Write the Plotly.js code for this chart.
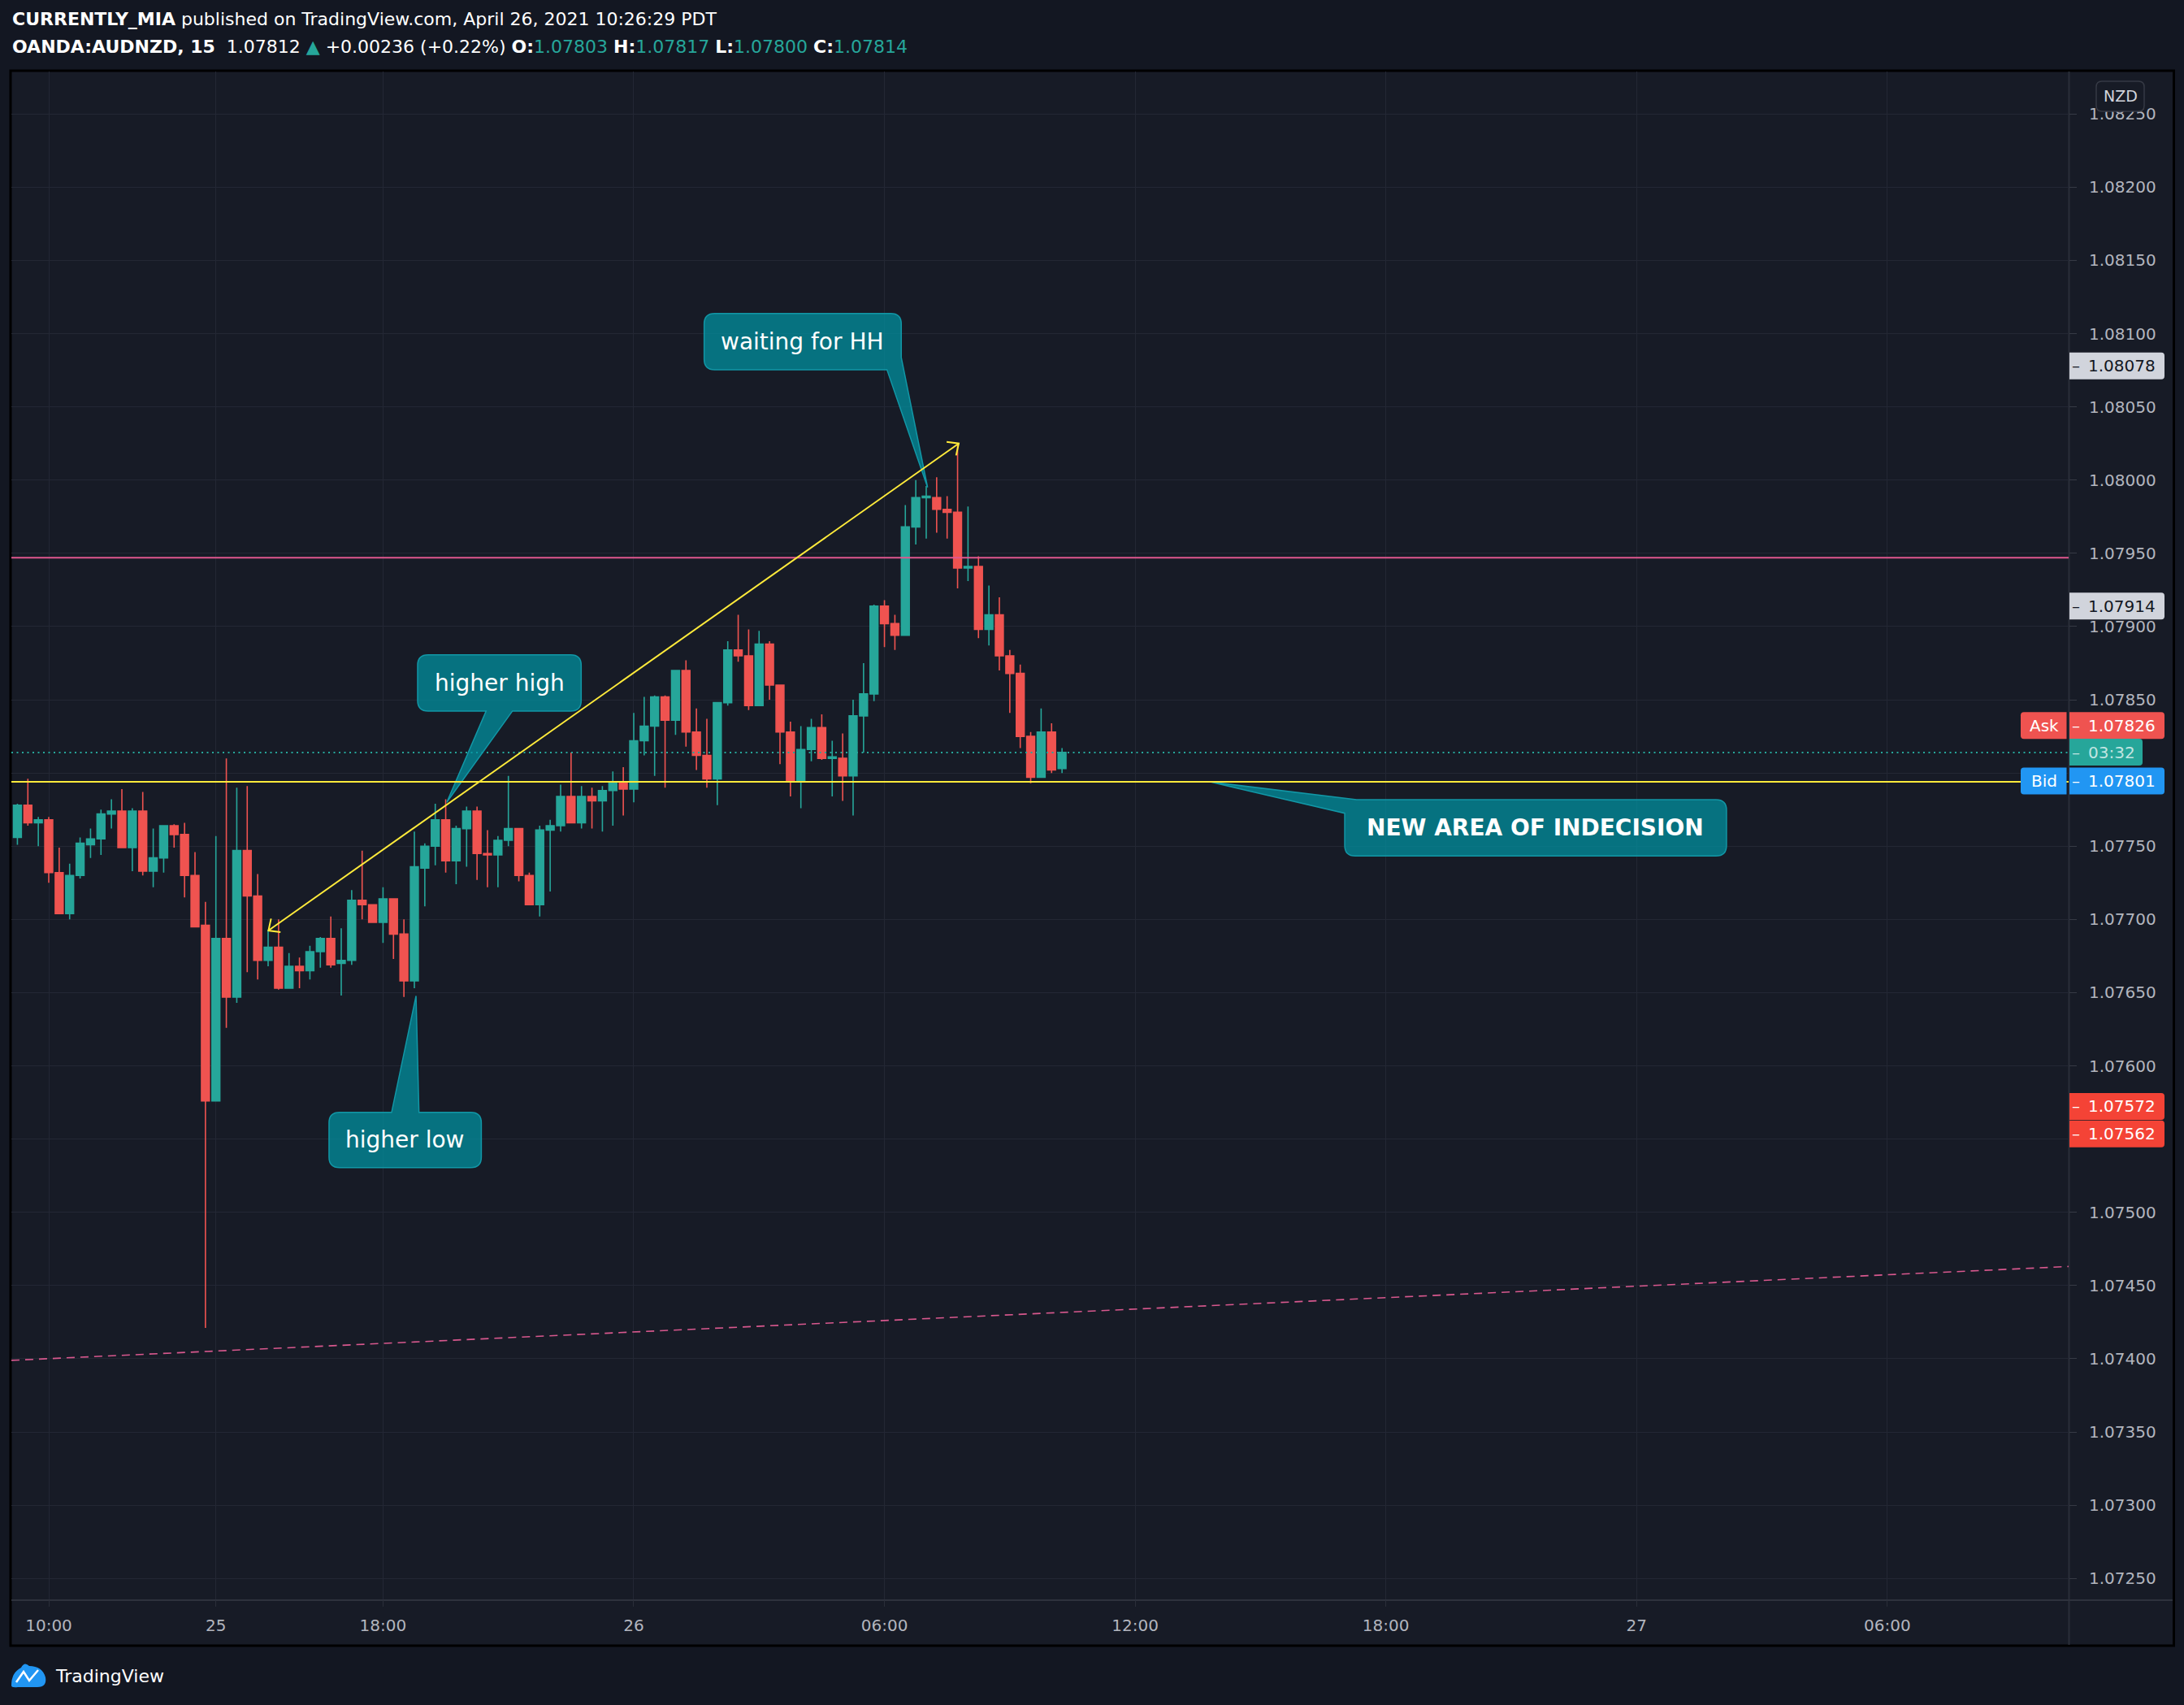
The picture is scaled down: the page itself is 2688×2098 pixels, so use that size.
<!DOCTYPE html>
<html><head><meta charset="utf-8">
<script src="https://cdn.plot.ly/plotly-3.0.1.min.js"></script>
<style>html,body{margin:0;padding:0;background:#131722;}#chart{width:2688px;height:2098px;}</style>
</head><body><div id="chart"></div>
<script>
// ===================== DATA =====================
// 15-minute candles, OANDA:AUDNZD. Bar index 0 = "10:00" (Fri). First candle is bar -3.
const firstBar = -3;
const openP = [
1.07756,1.07778,1.07766,1.07768,1.07732,1.07704,1.07730,1.07751,1.07755,1.07772,
1.07774,1.07749,1.07774,1.07733,1.07742,1.07764,1.07758,1.07730,1.07696,1.07576,
1.07687,1.07647,1.07747,1.07716,1.07672,1.07681,1.07653,1.07668,1.07665,1.07678,
1.07687,1.07670,1.07672,1.07713,1.07710,1.07698,1.07714,1.07690,1.07658,1.07735,
1.07750,1.07768,1.07740,1.07762,1.07774,1.07745,1.07744,1.07754,1.07762,1.07730,
1.07710,1.07761,1.07764,1.07784,1.07766,1.07784,1.07781,1.07788,1.07794,1.07789,
1.07822,1.07832,1.07852,1.07836,1.07870,1.07828,1.07812,1.07796,1.07848,1.07884,
1.07880,1.07846,1.07888,1.07860,1.07828,1.07794,1.07816,1.07831,1.07810,1.07810,
1.07798,1.07839,1.07854,1.07914,1.07902,1.07894,1.07968,1.07988,1.07988,1.07980,
1.07978,1.07940,1.07941,1.07898,1.07908,1.07880,1.07868,1.07825,1.07797,1.07828,
1.07803];
const highP = [
1.07779,1.07796,1.07770,1.07770,1.07749,1.07738,1.07756,1.07762,1.07775,1.07782,
1.07789,1.07776,1.07787,1.07762,1.07764,1.07765,1.07766,1.07746,1.07712,1.07757,
1.07810,1.07790,1.07791,1.07731,1.07693,1.07700,1.07677,1.07674,1.07682,1.07688,
1.07702,1.07694,1.07720,1.07747,1.07710,1.07722,1.07714,1.07700,1.07760,1.07752,
1.07779,1.07782,1.07764,1.07777,1.07777,1.07761,1.07757,1.07798,1.07762,1.07732,
1.07764,1.07768,1.07792,1.07814,1.07791,1.07790,1.07791,1.07801,1.07804,1.07841,
1.07852,1.07853,1.07853,1.07870,1.07877,1.07844,1.07837,1.07848,1.07890,1.07908,
1.07898,1.07897,1.07890,1.07860,1.07835,1.07832,1.07837,1.07840,1.07822,1.07827,
1.07850,1.07875,1.07915,1.07918,1.07908,1.07983,1.08000,1.07996,1.08002,1.07989,
1.08024,1.07982,1.07948,1.07928,1.07920,1.07884,1.07874,1.07828,1.07844,1.07834,
1.07817];
const lowP = [
1.07751,1.07764,1.07750,1.07725,1.07704,1.07700,1.07728,1.07742,1.07744,1.07762,
1.07749,1.07733,1.07730,1.07722,1.07732,1.07749,1.07715,1.07695,1.07421,1.07576,
1.07626,1.07643,1.07664,1.07659,1.07668,1.07652,1.07653,1.07653,1.07659,1.07667,
1.07667,1.07648,1.07669,1.07700,1.07698,1.07684,1.07673,1.07647,1.07653,1.07709,
1.07737,1.07732,1.07724,1.07736,1.07727,1.07722,1.07722,1.07750,1.07726,1.07710,
1.07702,1.07719,1.07760,1.07766,1.07762,1.07762,1.07760,1.07764,1.07771,1.07780,
1.07812,1.07798,1.07790,1.07826,1.07818,1.07802,1.07790,1.07778,1.07846,1.07876,
1.07843,1.07846,1.07850,1.07806,1.07784,1.07776,1.07808,1.07809,1.07784,1.07781,
1.07771,1.07814,1.07849,1.07886,1.07884,1.07894,1.07956,1.07960,1.07964,1.07960,
1.07926,1.07931,1.07892,1.07887,1.07870,1.07841,1.07817,1.07793,1.07797,1.07800,
1.07800];
const closeP = [
1.07778,1.07766,1.07768,1.07732,1.07704,1.07730,1.07752,1.07755,1.07772,1.07774,
1.07749,1.07774,1.07733,1.07742,1.07764,1.07758,1.07730,1.07695,1.07576,1.07687,
1.07647,1.07747,1.07716,1.07672,1.07681,1.07653,1.07668,1.07665,1.07678,1.07687,
1.07669,1.07672,1.07713,1.07710,1.07698,1.07714,1.07690,1.07658,1.07736,1.07750,
1.07768,1.07740,1.07762,1.07774,1.07745,1.07744,1.07754,1.07762,1.07730,1.07710,
1.07761,1.07764,1.07784,1.07766,1.07784,1.07781,1.07788,1.07794,1.07789,1.07822,
1.07832,1.07852,1.07836,1.07870,1.07828,1.07812,1.07796,1.07848,1.07884,1.07880,
1.07846,1.07888,1.07860,1.07828,1.07794,1.07816,1.07831,1.07810,1.07811,1.07798,
1.07839,1.07854,1.07914,1.07902,1.07894,1.07968,1.07988,1.07989,1.07980,1.07978,
1.07940,1.07941,1.07898,1.07908,1.07880,1.07868,1.07825,1.07797,1.07828,1.07802,
1.07814];

const tickBars   = [0, 16, 32, 56, 80, 104, 128, 152, 176];
const tickLabels = ['10:00', '25', '18:00', '26', '06:00', '12:00', '18:00', '27', '06:00'];
const priceTicks = [1.0725,1.0730,1.0735,1.0740,1.0745,1.0750,1.0755,1.0760,1.0765,1.0770,
                    1.0775,1.0780,1.0785,1.0790,1.0795,1.0800,1.0805,1.0810,1.0815,1.0820,1.0825];
const hiddenPriceTicks = [1.0755, 1.0780];   // covered by price-scale labels in the reference

const lastPrice = 1.07812, changeAbs = '+0.00236', changePct = '+0.22%';
const askPrice = 1.07826, bidPrice = 1.07801, countdown = '03:32';
const markerPrices = [1.08078, 1.07914];     // grey price-scale labels
const alertPrices  = [1.07572, 1.07562];     // red price-scale labels

// drawings (bar index, price)
const hLineYellow = 1.07794;
const hLinePink   = 1.07947;
const trendLine   = {x0: 21.03, y0: 1.076924, x1: 87.11, y1: 1.08025};
const dashedLine  = {y0: 1.073989, y1: 1.074630};

const callouts = [
  {text: 'waiting for HH', bold: false, x0: 62.74, x1: 81.61, yTop: 1.081138, yBot: 1.080754,
   tail: {s1: 1, p1: [81.61, 1.080837], tip: [84.13, 1.07995], s2: 2, p2: [80.24, 1.080754]}},
  {text: 'higher high', bold: false, x0: 35.31, x1: 50.97, yTop: 1.078807, yBot: 1.078423,
   tail: {s1: 2, p1: [44.39, 1.078423], tip: [38.1, 1.0778], s2: 2, p2: [41.87, 1.078423]}},
  {text: 'higher low', bold: false, x0: 26.83, x1: 41.41, yTop: 1.075682, yBot: 1.075305,
   tail: {s1: 0, p1: [32.82, 1.075682], tip: [35.16, 1.076478], s2: 0, p2: [35.44, 1.075682]}},
  {text: 'NEW AREA OF INDECISION', bold: true, x0: 124.06, x1: 160.61, yTop: 1.077818, yBot: 1.077433,
   tail: {s1: 3, p1: [124.06, 1.077725], tip: [111.25, 1.077938], s2: 0, p2: [125.2, 1.077818]}}
];

// ===================== GEOMETRY =====================
const FW = 2688, FH = 2098;
const X0 = 14, X1 = 2546, Y0 = 88, Y1 = 1968;
const xRange = [-3.578, 193.36];
const yRange = [1.072357, 1.08279];
const PW = X1 - X0, PH = Y1 - Y0;
const dx2px = i => X0 + (i - xRange[0]) / (xRange[1] - xRange[0]) * PW;
const dy2px = p => Y1 - (p - yRange[0]) / (yRange[1] - yRange[0]) * PH;
const px2dx = X => xRange[0] + (X - X0) / PW * (xRange[1] - xRange[0]);
const px2dy = Y => yRange[0] + (Y1 - Y) / PH * (yRange[1] - yRange[0]);
const pxX = X => (X - X0) / PW;
const pxY = Y => (Y1 - Y) / PH;

function pathStr(cmds, mx, my, close) {
  return cmds.map(c => c[0] + c.slice(1).map(p => mx(p[0]).toFixed(6) + ',' + my(p[1]).toFixed(7)).join(' ')).join(' ') + (close ? ' Z' : '');
}
function roundRect(l, t, r, b, rad) {
  const [tl, tr, br, bl] = rad;
  return [['M', [l + tl, t]], ['L', [r - tr, t]], ['Q', [r, t], [r, t + tr]], ['L', [r, b - br]], ['Q', [r, b], [r - br, b]],
          ['L', [l + bl, b]], ['Q', [l, b], [l, b - bl]], ['L', [l, t + tl]], ['Q', [l, t], [l + tl, t]]];
}
function calloutCmds(c) {
  const L = dx2px(c.x0), R = dx2px(c.x1), T = dy2px(c.yTop), B = dy2px(c.yBot), r = 13;
  const P = a => [dx2px(a[0]), dy2px(a[1])];
  const p1 = P(c.tail.p1), tip = P(c.tail.tip), p2 = P(c.tail.p2), s1 = c.tail.s1, s2 = c.tail.s2;
  const sides = [
    {end: [R - r, T], ctrl: [R, T], next: [R, T + r]},
    {end: [R, B - r], ctrl: [R, B], next: [R - r, B]},
    {end: [L + r, B], ctrl: [L, B], next: [L, B - r]},
    {end: [L, T + r], ctrl: [L, T], next: [L + r, T]}
  ];
  const cmds = [];
  cmds.push(['M', (s1 === 3 && s2 === 0) ? p2 : [L + r, T]]);
  for (let k = 0; k < 4; k++) {
    const sd = sides[k];
    if (k === s1) {
      cmds.push(['L', p1]); cmds.push(['L', tip]); cmds.push(['L', p2]);
      if (s2 !== k) continue;
    }
    cmds.push(['L', sd.end]); cmds.push(['Q', sd.ctrl, sd.next]);
  }
  return cmds;
}

// ===================== COLORS =====================
const UP = '#26a69a', DOWN = '#ef5350', GRID = '#232734', TXT = '#b2b5be';
const CHART_BG = '#171b26', PAGE_BG = '#131722';
const YELLOW = '#ffeb3b', PINK = '#e0578f', DASHPINK = '#d8588e';
const CALLOUT_FILL = 'rgba(0,151,167,0.70)', CALLOUT_LINE = '#1297a6';

const barIdx = openP.map((_, k) => firstBar + k);

const trace = {
  type: 'candlestick', x: barIdx, open: openP, high: highP, low: lowP, close: closeP,
  increasing: {line: {color: UP, width: 1.6}, fillcolor: UP},
  decreasing: {line: {color: DOWN, width: 1.6}, fillcolor: DOWN},
  whiskerwidth: 0, hoverinfo: 'skip', showlegend: false
};

const shapes = [];
const annotations = [];

// chart frame
shapes.push({type: 'rect', xref: 'paper', yref: 'paper', x0: pxX(13), x1: pxX(2675.5), y0: pxY(87), y1: pxY(2025),
  fillcolor: CHART_BG, line: {color: '#000000', width: 3}, layer: 'below'});
shapes.push({type: 'line', xref: 'paper', yref: 'paper', x0: pxX(X1 + 0.5), x1: pxX(X1 + 0.5), y0: pxY(88), y1: pxY(2024),
  line: {color: '#2a2e39', width: 2}, layer: 'below'});
shapes.push({type: 'line', xref: 'paper', yref: 'paper', x0: pxX(14), x1: pxX(2674), y0: pxY(1969), y1: pxY(1969),
  line: {color: '#2e323d', width: 2}, layer: 'below'});

// horizontal / dashed lines
shapes.push({type: 'line', xref: 'x', yref: 'y', x0: xRange[0], x1: xRange[1], y0: dashedLine.y0, y1: dashedLine.y1,
  line: {color: DASHPINK, width: 1.6, dash: '10px,7px'}});
shapes.push({type: 'line', xref: 'x', yref: 'y', x0: xRange[0], x1: xRange[1], y0: hLinePink, y1: hLinePink,
  line: {color: PINK, width: 1.8}});
shapes.push({type: 'line', xref: 'x', yref: 'y', x0: xRange[0], x1: xRange[1], y0: closeP[closeP.length - 1], y1: closeP[closeP.length - 1],
  line: {color: UP, width: 2, dash: '2px,4.5px'}});

// callouts
callouts.forEach(c => {
  shapes.push({type: 'path', xref: 'x', yref: 'y', path: pathStr(calloutCmds(c), px2dx, px2dy, true),
    fillcolor: CALLOUT_FILL, line: {color: CALLOUT_LINE, width: 1.5}});
  annotations.push({xref: 'x', yref: 'y', x: (c.x0 + c.x1) / 2, y: (c.yTop + c.yBot) / 2, showarrow: false,
    text: c.bold ? '<b>' + c.text + '</b>' : c.text,
    font: {family: 'DejaVu Sans', size: 28, color: '#ffffff'}, xanchor: 'center', yanchor: 'middle'});
});

// yellow lines (on top)
shapes.push({type: 'line', xref: 'x', yref: 'y', x0: xRange[0], x1: xRange[1], y0: hLineYellow, y1: hLineYellow,
  line: {color: YELLOW, width: 2}});
shapes.push({type: 'line', xref: 'x', yref: 'y', x0: trendLine.x0, y0: trendLine.y0, x1: trendLine.x1, y1: trendLine.y1,
  line: {color: YELLOW, width: 2}});
(function () {
  const S = [dx2px(trendLine.x0), dy2px(trendLine.y0)], E = [dx2px(trendLine.x1), dy2px(trendLine.y1)];
  const len = Math.hypot(E[0] - S[0], E[1] - S[1]);
  const u = [(E[0] - S[0]) / len, (E[1] - S[1]) / len];
  const rot = (v, a) => [v[0] * Math.cos(a) - v[1] * Math.sin(a), v[0] * Math.sin(a) + v[1] * Math.cos(a)];
  const head = (tip, back) => {
    const a = rot(back, 0.74), b = rot(back, -0.74), L = 15;
    return [['M', [tip[0] + L * a[0], tip[1] + L * a[1]]], ['L', tip], ['L', [tip[0] + L * b[0], tip[1] + L * b[1]]]];
  };
  [head(E, [-u[0], -u[1]]), head(S, u)].forEach(cm => shapes.push({type: 'path', xref: 'x', yref: 'y',
    path: pathStr(cm, px2dx, px2dy, false), fillcolor: 'rgba(0,0,0,0)', line: {color: YELLOW, width: 2}}));
})();

// price-scale labels
function scaleLabel(price, shiftPx, text, bg, fg, right, prefix) {
  const cy = dy2px(price) + shiftPx, t = cy - 16.5, b = cy + 16.5;
  shapes.push({type: 'path', xref: 'paper', yref: 'paper', path: pathStr(roundRect(X1 + 1, t, right, b, [0, 4, 4, 0]), pxX, pxY, true),
    fillcolor: bg, line: {width: 0}, layer: 'above'});
  annotations.push({xref: 'paper', yref: 'paper', x: pxX(X1 + 1.5), y: pxY(cy), xanchor: 'left', yanchor: 'middle', showarrow: false,
    text: '\u2013\u2002' + text, font: {family: 'DejaVu Sans', size: 20, color: fg}});
  if (prefix) {
    shapes.push({type: 'path', xref: 'paper', yref: 'paper', path: pathStr(roundRect(2487, t, X1 - 2.5, b, [4, 0, 0, 4]), pxX, pxY, true),
      fillcolor: bg, line: {width: 0}, layer: 'above'});
    annotations.push({xref: 'paper', yref: 'paper', x: pxX(2515.5), y: pxY(cy), xanchor: 'center', yanchor: 'middle', showarrow: false,
      text: prefix, font: {family: 'DejaVu Sans', size: 20, color: fg}});
  }
}
scaleLabel(markerPrices[0], 0, markerPrices[0].toFixed(5), '#d1d4dc', '#131722', 2664);
scaleLabel(markerPrices[1], 0, markerPrices[1].toFixed(5), '#d1d4dc', '#131722', 2664);
scaleLabel(alertPrices[0], -0.6, alertPrices[0].toFixed(5), '#f44336', '#ffffff', 2664);
scaleLabel(alertPrices[1], 15.2, alertPrices[1].toFixed(5), '#f44336', '#ffffff', 2664);
scaleLabel(askPrice, -11.6, askPrice.toFixed(5), DOWN, '#ffffff', 2664, 'Ask');
scaleLabel(closeP[closeP.length - 1], -0.4, countdown, UP, 'rgba(255,255,255,0.72)', 2637);
scaleLabel(bidPrice, 11.6, bidPrice.toFixed(5), '#2196f3', '#ffffff', 2664, 'Bid');

// NZD currency box
shapes.push({type: 'path', xref: 'paper', yref: 'paper', path: pathStr(roundRect(2580, 100, 2639, 137, [7, 7, 7, 7]), pxX, pxY, true),
  fillcolor: CHART_BG, line: {color: '#363a45', width: 1.5}, layer: 'above'});
annotations.push({xref: 'paper', yref: 'paper', x: pxX(2609.5), y: pxY(118.5), xanchor: 'center', yanchor: 'middle', showarrow: false,
  text: 'NZD', font: {family: 'DejaVu Sans', size: 19, color: '#d1d4dc'}});

// header
const n = closeP.length - 1;
const tv = v => '<span style="color:' + UP + '">' + v.toFixed(5) + '</span>';
annotations.push({xref: 'paper', yref: 'paper', x: pxX(13), y: pxY(23), xanchor: 'left', yanchor: 'middle', showarrow: false,
  text: '<b>CURRENTLY_MIA</b> published on TradingView.com, April 26, 2021 10:26:29 PDT',
  font: {family: 'DejaVu Sans', size: 22, color: '#ffffff'}});
annotations.push({xref: 'paper', yref: 'paper', x: pxX(13), y: pxY(57), xanchor: 'left', yanchor: 'middle', showarrow: false,
  text: '<b>OANDA:AUDNZD, 15</b>\u00a0 ' + lastPrice.toFixed(5) + ' <span style="color:' + UP + '">\u25b2</span> ' + changeAbs + ' (' + changePct + ') ' +
        '<b>O:</b>' + tv(openP[n]) + ' <b>H:</b>' + tv(highP[n]) + ' <b>L:</b>' + tv(lowP[n]) + ' <b>C:</b>' + tv(closeP[n]),
  font: {family: 'DejaVu Sans', size: 22, color: '#ffffff'}});

// footer logo
shapes.push({type: 'path', xref: 'paper', yref: 'paper',
  path: pathStr([['M', [14, 2074]], ['Q', [14, 2058], [26, 2052]], ['Q', [30, 2044], [36, 2050]], ['Q', [52, 2050], [56, 2064]],
                 ['Q', [58, 2076], [46, 2076]], ['L', [22, 2076]], ['Q', [14, 2077], [14, 2074]]], pxX, pxY, true),
  fillcolor: '#2196f3', line: {width: 0}, layer: 'above'});
shapes.push({type: 'path', xref: 'paper', yref: 'paper',
  path: pathStr([['M', [20, 2070]], ['L', [29, 2057]], ['L', [36, 2068]], ['L', [47, 2055]]], pxX, pxY, false),
  fillcolor: 'rgba(0,0,0,0)', line: {color: '#ffffff', width: 2.5}, layer: 'above'});
annotations.push({xref: 'paper', yref: 'paper', x: pxX(66), y: pxY(2062), xanchor: 'left', yanchor: 'middle', showarrow: false,
  text: 'TradingView', font: {family: 'DejaVu Sans', size: 22, color: '#ffffff'}});

const priceTickText = priceTicks.map(p => hiddenPriceTicks.some(h => Math.abs(h - p) < 1e-9) ? '' : p.toFixed(5));

const layout = {
  width: FW, height: FH,
  margin: {l: X0, r: FW - X1, t: Y0, b: FH - Y1, pad: 0},
  paper_bgcolor: PAGE_BG, plot_bgcolor: 'rgba(0,0,0,0)',
  font: {family: 'DejaVu Sans', color: TXT},
  showlegend: false, dragmode: false,
  boxgap: 0.24, boxgroupgap: 0,
  xaxis: {range: xRange, tickmode: 'array', tickvals: tickBars, ticktext: tickLabels,
    showgrid: true, gridcolor: GRID, gridwidth: 1, zeroline: false, showline: false,
    ticks: 'outside', ticklen: 8, tickcolor: '#2a2e39', tickwidth: 1,
    tickfont: {family: 'DejaVu Sans', size: 20, color: TXT}, ticklabelstandoff: 6,
    rangeslider: {visible: false}, fixedrange: true},
  yaxis: {range: yRange, side: 'right', tickmode: 'array', tickvals: priceTicks, ticktext: priceTickText,
    showgrid: true, gridcolor: GRID, gridwidth: 1, zeroline: false, showline: false,
    ticks: 'outside', ticklen: 9, tickcolor: '#363a45', tickwidth: 1,
    tickfont: {family: 'DejaVu Sans', size: 20, color: TXT}, ticklabelstandoff: 11, fixedrange: true},
  shapes: shapes, annotations: annotations
};

Plotly.newPlot('chart', [trace], layout, {staticPlot: true, displayModeBar: false});
</script></body></html>
